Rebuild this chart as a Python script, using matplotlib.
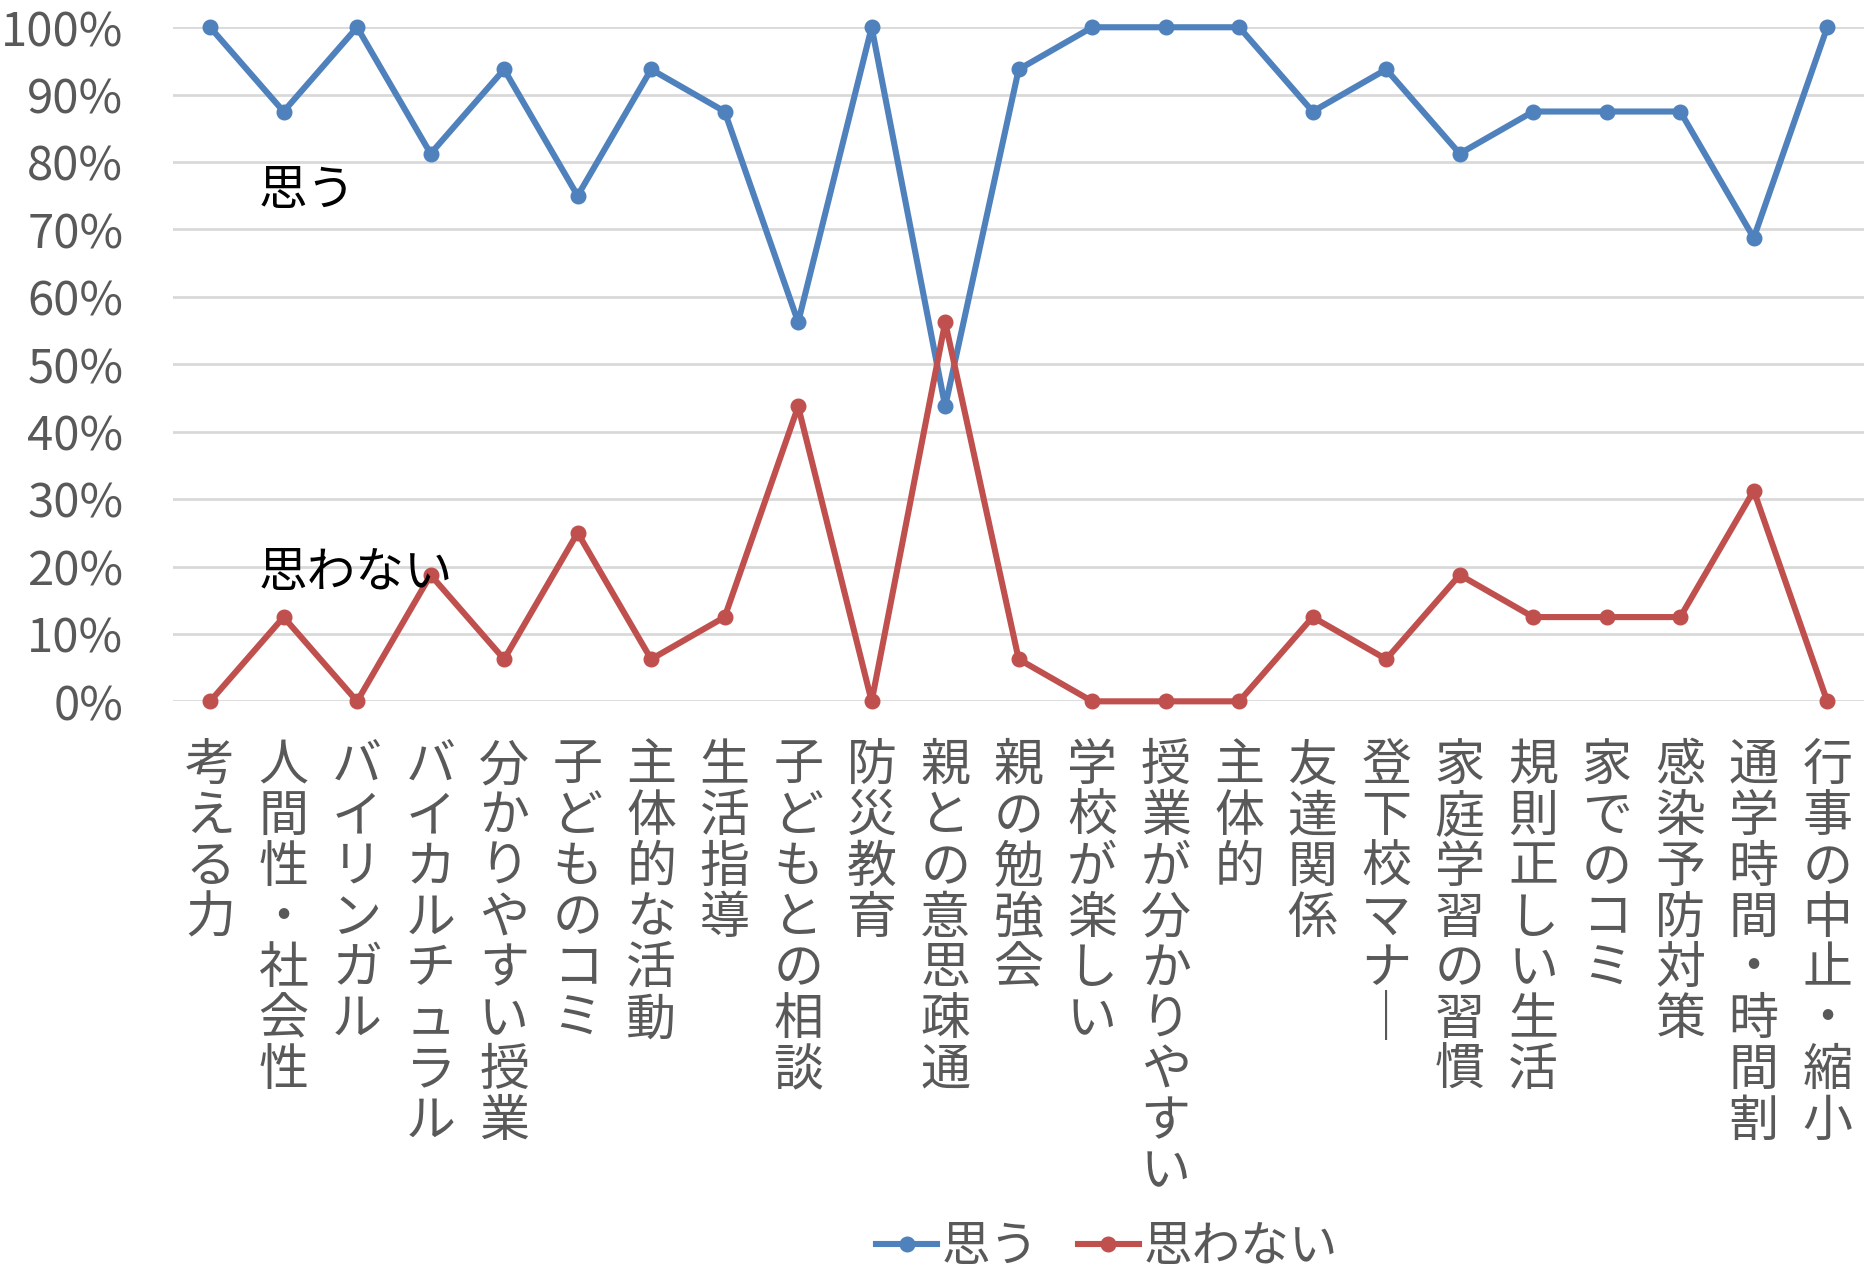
import matplotlib
matplotlib.use("Agg")
import matplotlib.pyplot as plt
from matplotlib.ticker import PercentFormatter

plt.rcParams['font.family'] = ['Noto Sans CJK JP', 'DejaVu Sans']

categories = ["考える力", "人間性・社会性", "バイリンガル", "バイカルチュラル", "分かりやすい授業",
              "子どものコミ", "主体的な活動", "生活指導", "子どもとの相談", "防災教育",
              "親との意思疎通", "親の勉強会", "学校が楽しい", "授業が分かりやすい", "主体的",
              "友達関係", "登下校マナー", "家庭学習の習慣", "規則正しい生活", "家でのコミ",
              "感染予防対策", "通学時間・時間割", "行事の中止・縮小"]
omou = [100, 87.5, 100, 81.25, 93.75, 75, 93.75, 87.5, 56.25, 100, 43.75, 93.75,
        100, 100, 100, 87.5, 93.75, 81.25, 87.5, 87.5, 87.5, 68.75, 100]
omowanai = [0, 12.5, 0, 18.75, 6.25, 25, 6.25, 12.5, 43.75, 0, 56.25, 6.25,
            0, 0, 0, 12.5, 6.25, 18.75, 12.5, 12.5, 12.5, 31.25, 0]

blue = "#4F81BD"
red = "#C0504D"
gray = "#595959"


def vertical(s):
    # stack characters top to bottom, long vowel mark turned upright
    return "\n".join(s.replace("ー", "｜"))


fig = plt.figure(figsize=(18.64, 12.74), dpi=100)
ax = fig.add_axes([0.093, 0.4495, 0.907, 0.5291])

x = list(range(len(categories)))
ax.plot(x, omou, color=blue, lw=4.4, marker="o", ms=10.5, label="思う",
        zorder=3, clip_on=False)
ax.plot(x, omowanai, color=red, lw=4.4, marker="o", ms=10.5, label="思わない",
        zorder=3, clip_on=False)

ax.set_xlim(-0.5, len(categories) - 0.5)
ax.set_ylim(0, 100)
ax.set_yticks(range(0, 101, 10))
ax.yaxis.set_major_formatter(PercentFormatter(decimals=0))
ax.grid(axis="y", color="#D9D9D9", lw=2)
ax.set_axisbelow(True)
for sp in ax.spines.values():
    sp.set_visible(False)

ax.set_xticks(x)
ax.set_xticklabels([vertical(c) for c in categories], fontsize=36, color=gray,
                   va="top", ha="center", linespacing=0.97)
ax.tick_params(axis="x", length=0, pad=28)
ax.tick_params(axis="y", length=0, labelsize=34, labelcolor=gray, pad=36)

ax.text(0.66, 75.6, "思う", fontsize=35, color="black", va="center", ha="left")
ax.text(0.66, 19.0, "思わない", fontsize=35, color="black", va="center", ha="left")

fig.legend(loc="center", bbox_to_anchor=(0.594, 0.021), ncol=2, frameon=False,
           fontsize=35, labelcolor=gray, handlelength=1.25, handletextpad=0.1,
           columnspacing=0.8, borderpad=0)

fig.savefig("out.png", dpi=100)
